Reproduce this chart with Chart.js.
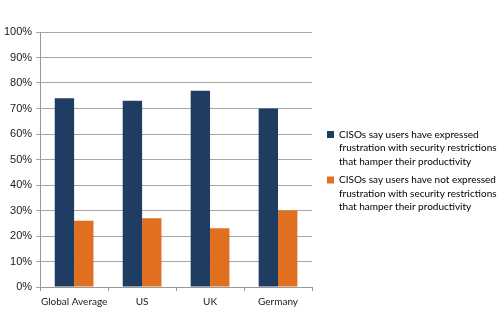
<!DOCTYPE html>
<html>
<head>
<meta charset="utf-8">
<script src="https://cdn.jsdelivr.net/npm/chart.js@4/dist/chart.umd.min.js"></script>
<style>
  html, body { margin: 0; padding: 0; background: #fff; }
  #wrap { width: 500px; height: 333px; }
</style>
</head>
<body>
<div id="wrap"><canvas id="cisoChart"></canvas></div>
<script>
// Datos: porcentaje de CISOs por país
const paises = ['Global Average', 'US', 'UK', 'Germany'];
const conFrustracion = [74, 73, 77, 70];
const sinFrustracion = [26, 27, 23, 30];
const etiquetasSerie = [
    ['CISOs say users have expressed', 'frustration with security restrictions', 'that hamper their productivity'],
    ['CISOs say users have not expressed', 'frustration with security restrictions', 'that hamper their productivity']
];
const ticksY = [0, 10, 20, 30, 40, 50, 60, 70, 80, 90, 100];

const colores = ['#1f3c62', '#e0701f'];

const ctx = document.getElementById('cisoChart').getContext('2d');
new Chart(ctx, {
    type: 'bar',
    data: {
        labels: paises,
        datasets: [{
            label: etiquetasSerie[0],
            data: conFrustracion,
            backgroundColor: colores[0],
            barPercentage: 1,
            categoryPercentage: 0.57
        }, {
            label: etiquetasSerie[1],
            data: sinFrustracion,
            backgroundColor: colores[1],
            barPercentage: 1,
            categoryPercentage: 0.57
        }]
    },
    options: {
        responsive: true,
        maintainAspectRatio: false,
        animation: false,
        layout: {
            padding: { top: 32, right: 0, bottom: 20, left: 0 }
        },
        plugins: {
            tooltip: { enabled: false },
            legend: {
                position: 'right',
                align: 'center',
                maxWidth: 178,
                labels: {
                    boxWidth: 7,
                    boxHeight: 7,
                    padding: 5,
                    color: '#2a2a2a',
                    font: { family: 'Lato', size: 10, lineHeight: 1.35 },
                    generateLabels: function(chart) {
                        return chart.data.datasets.map((ds, i) => ({
                            text: ds.label,
                            fillStyle: ds.backgroundColor,
                            strokeStyle: ds.backgroundColor,
                            lineWidth: 0,
                            datasetIndex: i
                        }));
                    }
                }
            }
        },
        scales: {
            x: {
                grid: {
                    display: true,
                    drawOnChartArea: false,
                    drawTicks: true,
                    tickLength: 4,
                    color: '#999'
                },
                border: { color: '#999' },
                ticks: {
                    color: '#1a1a1a',
                    padding: 5,
                    maxRotation: 0,
                    minRotation: 0,
                    autoSkip: false,
                    font: { family: 'Lato', size: 10 }
                }
            },
            y: {
                min: 0,
                max: 100,
                afterBuildTicks: function(axis) {
                    axis.ticks = ticksY.map(v => ({ value: v }));
                },
                grid: {
                    color: '#a6a6a6',
                    tickLength: 4
                },
                border: { color: '#999' },
                ticks: {
                    color: '#1a1a1a',
                    padding: 4,
                    font: { family: 'Liberation Sans', size: 11 },
                    callback: function(value) {
                        return value + '%';
                    }
                }
            },
            // eje vacío a la derecha: separa el área del gráfico de la leyenda
            margen: {
                axis: 'y',
                position: 'right',
                grid: { display: false, drawTicks: false },
                border: { display: false },
                ticks: { display: false },
                afterFit: function(scale) {
                    scale.width = 10;
                }
            }
        }
    }
});
</script>
</body>
</html>
